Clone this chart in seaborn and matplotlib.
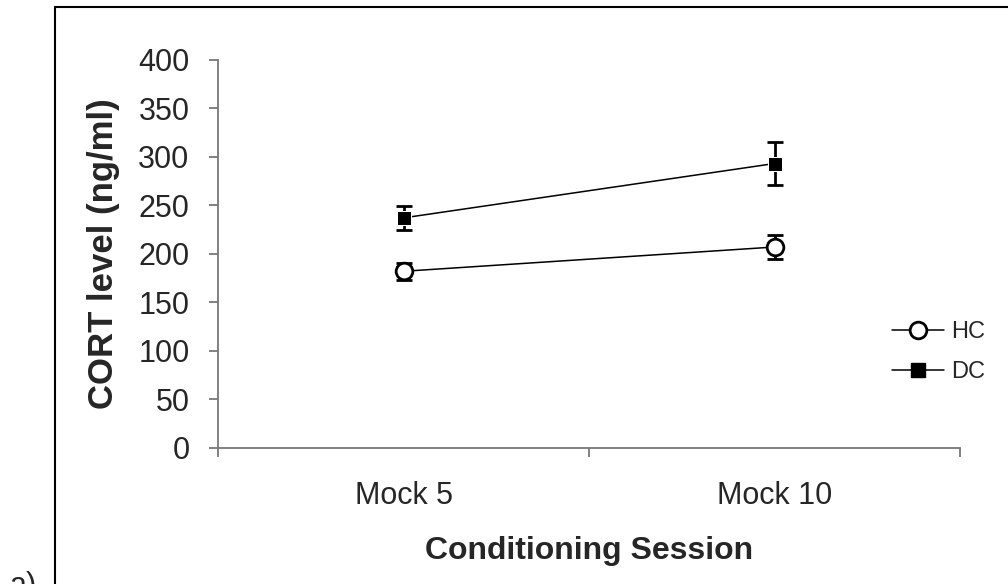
import pandas as pd
import matplotlib
matplotlib.use("Agg")
import matplotlib.pyplot as plt
import seaborn as sns
from matplotlib.patches import Rectangle
from matplotlib.lines import Line2D

# Data
sessions = ["Mock 5", "Mock 10"]
hc_mean = [182, 207]
hc_err = [9, 12]
dc_mean = [237, 293]
dc_err = [12, 22]

sns.set_theme(style="white")
plt.rcParams["font.family"] = ["Liberation Sans", "DejaVu Sans"]

df = pd.DataFrame({
    "session": sessions * 2,
    "cort": hc_mean + dc_mean,
    "group": ["HC"] * 2 + ["DC"] * 2,
})

fig = plt.figure(figsize=(10.08, 5.84), dpi=100)
ax = fig.add_axes([0.2163, 0.2329, 0.7361, 0.665])

sns.lineplot(data=df, x="session", y="cort", hue="group", style="group",
             palette={"HC": "black", "DC": "black"},
             markers={"HC": "o", "DC": "s"}, dashes=False,
             markersize=12, linewidth=1.1, ax=ax, legend=False, zorder=3)
# open circle for HC, filled square for DC
line_hc, line_dc = ax.lines[0], ax.lines[1]
line_hc.set_markerfacecolor("white")
line_hc.set_markeredgecolor("black")
line_hc.set_markeredgewidth(2)
line_hc.set_markersize(12)
line_dc.set_markerfacecolor("black")
line_dc.set_markersize(9.5)

xs = list(range(len(sessions)))
ax.errorbar(xs, hc_mean, yerr=hc_err, fmt="none", ecolor="black",
            elinewidth=2, capsize=5.5, capthick=2, zorder=2)
ax.errorbar(xs, dc_mean, yerr=dc_err, fmt="none", ecolor="black",
            elinewidth=2, capsize=5.5, capthick=2, zorder=2)

ax.set_ylim(0, 400)
ax.set_yticks(range(0, 401, 50))
ax.set_xlim(-0.5, 1.5)
ax.set_xticks(xs)
ax.set_xticklabels(sessions)
ax.set_xticks([-0.5, 0.5, 1.5], minor=True)

for s in ["top", "right"]:
    ax.spines[s].set_visible(False)
for s in ["left", "bottom"]:
    ax.spines[s].set_color("#777777")
    ax.spines[s].set_linewidth(1.3)

ax.tick_params(axis="y", which="major", direction="out", length=6.5, width=1.3,
               color="#777777", labelsize=22, pad=14, left=True)
ax.tick_params(axis="x", which="major", length=0, labelsize=22, pad=24)
ax.tick_params(axis="x", which="minor", direction="out", length=6.5, width=1.3,
               color="#777777", bottom=True)

ax.set_xlabel("Conditioning Session", fontsize=23, fontweight="bold", labelpad=18)
ax.set_ylabel("CORT level (ng/ml)", fontsize=25, fontweight="bold", labelpad=13)

handles = [
    Line2D([], [], color="black", lw=1.1, marker="o", markersize=12,
           markerfacecolor="white", markeredgewidth=2),
    Line2D([], [], color="black", lw=1.1, marker="s", markersize=9.5,
           markerfacecolor="black"),
]
ax.legend(handles, ["HC", "DC"], loc="center left",
          bbox_to_anchor=(0.88, 0.247), frameon=False, fontsize=17,
          handlelength=2.2, handletextpad=0.3, labelspacing=0.75)

# outer border frame (cut off on right/bottom as in the reference)
fig.patches.append(Rectangle((55 / 1008, -0.05), 1.0, (584 - 7) / 584 + 0.05,
                             transform=fig.transFigure, fill=False,
                             edgecolor="black", linewidth=1.5))
fig.text(10 / 1008, 0.022, "a)", fontsize=22, ha="left", va="top")

fig.savefig("out.png", dpi=100)
